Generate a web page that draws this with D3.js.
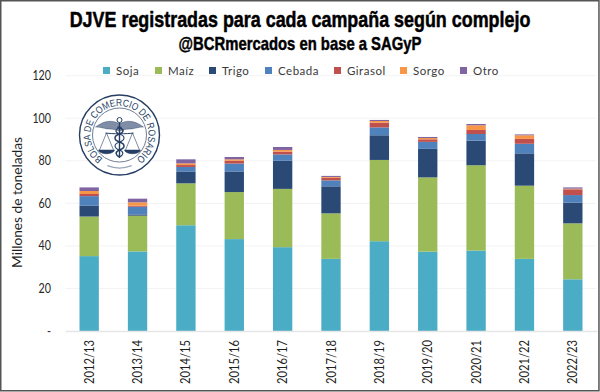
<!DOCTYPE html>
<html><head><meta charset="utf-8">
<script src="https://cdn.jsdelivr.net/npm/d3@7/dist/d3.min.js"></script>
<style>html,body{margin:0;padding:0;background:#fff}svg{display:block}</style>
</head><body><svg id="c" width="600" height="392"></svg>
<script>
const campaigns=["2012/13","2013/14","2014/15","2015/16","2016/17","2017/18","2018/19","2019/20","2020/21","2021/22","2022/23"];
const seriesNames=["Soja","Maíz","Trigo","Cebada","Girasol","Sorgo","Otro"];
const seriesColors=["#4bacc6","#9bbb59","#2a4a75","#4f81bd","#c0504d","#f79646","#8064a2"];
const soja=[35.2,37.4,49.7,43.2,39.4,33.9,42.2,37.3,37.8,33.9,24.3];
const maiz=[18.6,16.8,19.7,22.1,27.4,21.4,38.2,34.9,40.1,34.4,26.3];
const trigo=[5.2,0.6,5.6,9.7,13.2,12.7,11.6,13.4,11.6,15.2,9.8];
const cebada=[4.4,3.6,2.1,3.7,3.0,2.8,3.7,3.3,3.1,4.5,3.5];
const girasol=[1.0,0.5,0.9,1.3,1.3,1.2,2.2,1.2,1.9,2.3,2.7];
const sorgo=[1.4,1.6,0.8,0.7,0.8,0.4,0.8,0.6,2.2,1.7,0.3];
const otro=[1.7,1.7,1.9,1.1,1.4,0.5,0.5,0.5,0.6,0.4,0.6];
const yTicks=[0,20,40,60,80,100,120];
const legendX=[103,155,209,265,334,400,460];
const titleText="DJVE registradas para cada campaña según complejo";
const subtitleText="@BCRmercados en base a SAGyP";
const yTitle="Millones de toneladas";
const logoText="BOLSA DE COMERCIO DE ROSARIO";

const svg=d3.select("#c");
const bodyFont="Lato, 'Open Sans', sans-serif";
const headFont="'Liberation Sans',sans-serif";
const x=d3.scaleBand().domain(campaigns).range([65,597]).paddingInner(.6).paddingOuter(.3);
const y=d3.scaleLinear().domain([0,120]).range([331,75.7]);

svg.append("g").selectAll("line").data(yTicks.slice(1)).join("line")
 .attr("x1",65).attr("x2",596).attr("y1",d=>y(d)).attr("y2",d=>y(d))
 .attr("stroke","#f3f3f3").attr("stroke-width",1);

const rows=campaigns.map((c,i)=>({c,Soja:soja[i],"Maíz":maiz[i],Trigo:trigo[i],Cebada:cebada[i],Girasol:girasol[i],Sorgo:sorgo[i],Otro:otro[i]}));
const stack=d3.stack().keys(seriesNames)(rows);
svg.append("g").selectAll("g").data(stack).join("g").attr("fill",(d,i)=>seriesColors[i])
 .selectAll("rect").data(d=>d).join("rect")
 .attr("x",d=>x(d.data.c)).attr("width",x.bandwidth())
 .attr("y",d=>y(d[1])).attr("height",d=>y(d[0])-y(d[1]));

const xAxis=svg.append("g").attr("transform","translate(0,331)").call(d3.axisBottom(x).tickSize(0));
xAxis.select(".domain").attr("stroke","#e6e6e6").attr("stroke-width",1.6);
xAxis.selectAll("text").attr("transform","rotate(-90)").attr("text-anchor","end")
 .attr("x",-9).attr("y",0).attr("dy","0.36em").attr("font-family",bodyFont).attr("font-size",12.5)
 .attr("textLength",44).attr("lengthAdjust","spacingAndGlyphs").attr("fill","#1f1f1f");
const yAxis=svg.append("g").attr("transform","translate(51,0)")
 .call(d3.axisLeft(y).tickValues(yTicks).tickSize(0).tickPadding(0).tickFormat(d=>d===0?"-":d));
yAxis.select(".domain").remove();
yAxis.selectAll("text").attr("font-family",bodyFont).attr("font-size",12.5).attr("fill","#262626")
 .attr("textLength",d=>d===0?4:String(d).length*6.2).attr("lengthAdjust","spacingAndGlyphs");

svg.append("text").attr("transform","translate(17,202.5) rotate(-90)").attr("text-anchor","middle")
 .attr("dy","0.36em").attr("font-family",bodyFont).attr("font-size",14).attr("textLength",131)
 .attr("lengthAdjust","spacingAndGlyphs").attr("fill","#1f1f1f").text(yTitle);

// condensed headline: drawn in the sans and narrowed to the reference's width
function headline(txt,yPos,size,width,sw){
 const t=svg.append("text").attr("text-anchor","middle").attr("font-family",headFont)
  .attr("font-weight",700).attr("font-size",size).attr("fill","#000").attr("stroke","#000").attr("stroke-width",sw).text(txt);
 t.attr("transform",`translate(300,${yPos}) scale(${width/t.node().getComputedTextLength()},1)`);
}
headline(titleText,27,22,461,.5);
headline(subtitleText,50,18,243,.45);

const lg=svg.append("g").selectAll("g").data(seriesNames).join("g")
 .attr("transform",(d,i)=>`translate(${legendX[i]},70.5)`);
lg.append("rect").attr("y",-3.5).attr("width",7).attr("height",7).attr("fill",(d,i)=>seriesColors[i]);
lg.append("text").attr("x",13).attr("dy","0.36em").attr("font-family",bodyFont).attr("font-size",11.5)
 .attr("letter-spacing",.5).attr("fill","#3a3a3a").text(d=>d);

const navy="#263e63";
const logo=svg.append("g").attr("transform","translate(119.5,135)").attr("fill","none").attr("stroke",navy);
logo.append("circle").attr("r",40).attr("fill","#fff").attr("stroke-width",1.4);
logo.append("circle").attr("r",27).attr("stroke-width",1).attr("stroke","#6f7e96");
const tp=d3.path();tp.arc(0,0,29,Math.PI*0.6,Math.PI*2.4,false);
svg.append("defs").append("path").attr("id","logoArc").attr("d",tp.toString());
logo.append("text").attr("stroke","none").attr("fill",navy).attr("font-family","'Liberation Sans',sans-serif")
 .attr("font-size",10).attr("textLength",146).attr("lengthAdjust","spacingAndGlyphs")
 .append("textPath").attr("href","#logoArc").attr("startOffset","50%").attr("text-anchor","middle").text(logoText);
const bot=d3.path();bot.arc(0,0,33,Math.PI*0.38,Math.PI*0.62,false);
logo.append("path").attr("d",bot.toString()).attr("stroke","#9aa5b5").attr("stroke-width",1.2);
const wing=s=>`M0,-11 C${s*6},-15 ${s*15},-15 ${s*24},-8 C${s*18},-8 ${s*15},-6 ${s*10},-6 C${s*6},-6 ${s*3},-5 0,-4Z`;
logo.append("path").attr("d",wing(1)).attr("fill","#7f8ea6").attr("stroke",navy).attr("stroke-width",.4);
logo.append("path").attr("d",wing(-1)).attr("fill","#7f8ea6").attr("stroke",navy).attr("stroke-width",.4);
logo.append("path").attr("d","M0,-15V23").attr("stroke-width",1.4);
logo.append("circle").attr("cy",-15).attr("r",2.5).attr("fill","#fff").attr("stroke-width",1);
logo.append("path").attr("d","M-14,-2 C-8,-1 8,-1 14,-2").attr("stroke-width",1);
[-1,1].forEach(s=>{
 logo.append("path").attr("d",`M${s*13},-2 L${s*6},15 M${s*13},-2 L${s*20},15`).attr("stroke-width",.6);
 logo.append("path").attr("d",`M${s*5},15 H${s*21} C${s*20},20 ${s*6},20 ${s*5},15Z`).attr("fill",navy).attr("stroke-width",.5);
});
logo.append("path").attr("d","M-2,-8 C5,-6 5,-3 0,-1 C-6,1 -6,5 0,7 C6,9 6,13 0,15 C-5,17 -4,20 0,22").attr("stroke-width",1.5);
logo.append("path").attr("d","M2,-8 C-5,-6 -5,-3 0,-1 C6,1 6,5 0,7 C-6,9 -6,13 0,15 C5,17 4,20 0,22").attr("stroke-width",1.1);

svg.append("rect").attr("x",.75).attr("y",.75).attr("width",598.2).attr("height",390).attr("fill","none")
 .attr("stroke","#555").attr("stroke-width",1.5);
</script></body></html>
